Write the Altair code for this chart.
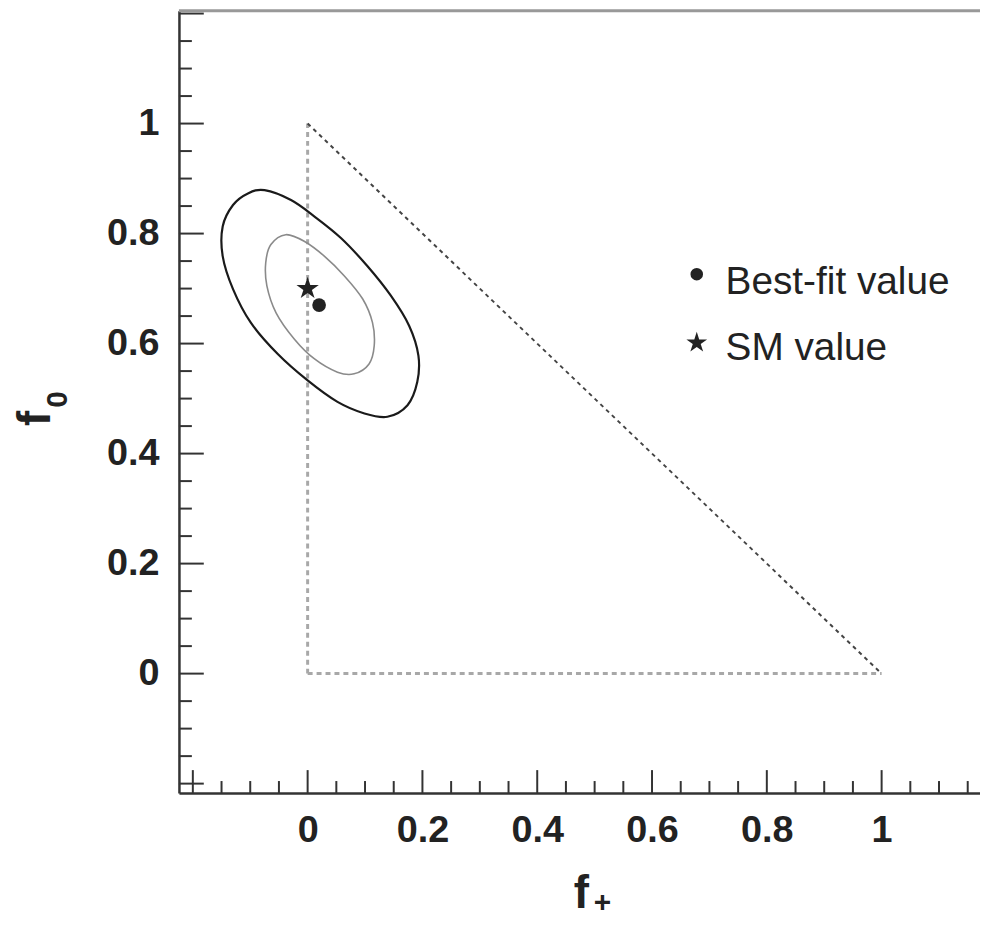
import altair as alt
import pandas as pd

# ---- data ----
outer_x = [-0.075, -0.029, 0.012, 0.058, 0.104, 0.145, 0.177, 0.193, 0.191, 0.174, 0.139,
           0.099, 0.052, 0.000, -0.052, -0.099, -0.130, -0.148, -0.148, -0.130, -0.104]
outer_y = [0.879, 0.861, 0.831, 0.792, 0.741, 0.687, 0.632, 0.578, 0.530, 0.488, 0.467,
           0.473, 0.494, 0.533, 0.581, 0.638, 0.699, 0.759, 0.813, 0.852, 0.873]

inner_x = [-0.038, -0.006, 0.029, 0.064, 0.096, 0.113, 0.116, 0.107, 0.081, 0.052, 0.012,
           -0.023, -0.055, -0.071, -0.073, -0.064]
inner_y = [0.798, 0.786, 0.759, 0.723, 0.681, 0.638, 0.596, 0.563, 0.545, 0.548, 0.572,
           0.608, 0.656, 0.705, 0.747, 0.780]

best_fit = [0.02, 0.67]
sm_value = [0.0, 0.70]

# triangle edges: x, y, x2, y2
gray_edges_x = [0.0, 0.0]
gray_edges_y = [0.0, 0.0]
gray_edges_x2 = [0.0, 1.0]
gray_edges_y2 = [1.0, 0.0]
diag_x, diag_y, diag_x2, diag_y2 = [0.0], [1.0], [1.0], [0.0]

x_major = [-0.2, 0.0, 0.2, 0.4, 0.6, 0.8, 1.0]
x_minor = [-0.15, -0.1, -0.05, 0.05, 0.1, 0.15, 0.25, 0.3, 0.35, 0.45, 0.5, 0.55,
           0.65, 0.7, 0.75, 0.85, 0.9, 0.95, 1.05, 1.1, 1.15]
y_major = [-0.2, 0.0, 0.2, 0.4, 0.6, 0.8, 1.0, 1.2]
y_minor = [-0.15, -0.1, -0.05, 0.05, 0.1, 0.15, 0.25, 0.3, 0.35, 0.45, 0.5, 0.55,
           0.65, 0.7, 0.75, 0.85, 0.9, 0.95, 1.05, 1.1, 1.15]
label_values = [0.0, 0.2, 0.4, 0.6, 0.8, 1.0]

legend_labels = ["Best-fit value", "SM value"]

# ---- layout / style ----
W, H = 806, 787
FONT = "Liberation Sans"
INK = "#222222"
STAR = ("M0,-1L0.2245,-0.309L0.951,-0.309L0.363,0.118L0.588,0.809L0,0.382"
        "L-0.588,0.809L-0.363,0.118L-0.951,-0.309L-0.2245,-0.309Z")

xscale = alt.Scale(domain=[-0.2242, 1.1714], nice=False, zero=False)
yscale = alt.Scale(domain=[-0.217, 1.205], nice=False, zero=False)

common_axis = dict(values=label_values, format=".1~f", title=None, ticks=False, tickSize=0,
                   grid=False, domain=True, domainColor="#333333", domainWidth=2.5,
                   labelFont=FONT, labelFontSize=38, labelFontWeight="bold", labelColor=INK,
                   labelOverlap=False, labelFlush=False)
xaxis = alt.Axis(orient="bottom", labelPadding=19, **common_axis)
yaxis = alt.Axis(orient="left", labelPadding=20, **common_axis)

X = alt.X("x:Q", scale=xscale, axis=xaxis)
Y = alt.Y("y:Q", scale=yscale, axis=yaxis)

one = pd.DataFrame({"a": [0]})

gray_df = pd.DataFrame({"x": gray_edges_x, "y": gray_edges_y, "x2": gray_edges_x2, "y2": gray_edges_y2})
diag_df = pd.DataFrame({"x": diag_x, "y": diag_y, "x2": diag_x2, "y2": diag_y2})

gray_lines = alt.Chart(gray_df).mark_rule(color="#a8a8a8", strokeWidth=3, strokeDash=[5, 4]).encode(
    x=X, y=Y, x2="x2:Q", y2="y2:Q")
diag_line = alt.Chart(diag_df).mark_rule(color="#444444", strokeWidth=2, strokeDash=[4, 4]).encode(
    x=X, y=Y, x2="x2:Q", y2="y2:Q")

outer_df = pd.DataFrame({"x": outer_x, "y": outer_y, "o": list(range(len(outer_x)))})
inner_df = pd.DataFrame({"x": inner_x, "y": inner_y, "o": list(range(len(inner_x)))})

outer = alt.Chart(outer_df).mark_line(color="#1a1a1a", strokeWidth=2.2, interpolate="cardinal-closed").encode(
    x=X, y=Y, order="o:Q")
inner = alt.Chart(inner_df).mark_line(color="#8a8a8a", strokeWidth=1.6, interpolate="cardinal-closed").encode(
    x=X, y=Y, order="o:Q")

bf = alt.Chart(pd.DataFrame({"x": [best_fit[0]], "y": [best_fit[1]]})).mark_point(
    shape="circle", filled=True, color=INK, opacity=1, size=190).encode(x=X, y=Y)
sm = alt.Chart(pd.DataFrame({"x": [sm_value[0]], "y": [sm_value[1]]})).mark_point(
    shape=STAR, filled=True, color=INK, opacity=1, size=560).encode(x=X, y=Y)

# inward tick marks
xmaj = alt.Chart(pd.DataFrame({"x": x_major})).mark_rule(color="#333333", strokeWidth=2).encode(
    x=X, y=alt.value(H), y2=alt.value(H - 23))
xmin = alt.Chart(pd.DataFrame({"x": x_minor})).mark_rule(color="#333333", strokeWidth=2).encode(
    x=X, y=alt.value(H), y2=alt.value(H - 12))
ymaj = alt.Chart(pd.DataFrame({"y": y_major})).mark_rule(color="#333333", strokeWidth=2).encode(
    y=Y, x=alt.value(0), x2=alt.value(25))
ymin = alt.Chart(pd.DataFrame({"y": y_minor})).mark_rule(color="#333333", strokeWidth=2).encode(
    y=Y, x=alt.value(0), x2=alt.value(13))

top_border = alt.Chart(one).mark_rule(color="#999999", strokeWidth=3).encode(
    x=alt.value(0), x2=alt.value(W), y=alt.value(0))

# legend
leg_dot = alt.Chart(one).mark_point(shape="circle", filled=True, color=INK, opacity=1, size=160).encode(
    x=alt.value(521), y=alt.value(265))
leg_star = alt.Chart(one).mark_point(shape=STAR, filled=True, color=INK, opacity=1, size=480).encode(
    x=alt.value(521), y=alt.value(334))
leg_t1 = alt.Chart(one).mark_text(text=legend_labels[0], font=FONT, fontSize=39, color=INK,
                                  align="left", baseline="alphabetic").encode(x=alt.value(550), y=alt.value(285))
leg_t2 = alt.Chart(one).mark_text(text=legend_labels[1], font=FONT, fontSize=39, color=INK,
                                  align="left", baseline="alphabetic").encode(x=alt.value(550), y=alt.value(351))

# axis titles f_+ and f_0
xt_f = alt.Chart(one).mark_text(text="f", font=FONT, fontSize=46, fontWeight="bold", color=INK,
                                align="center", baseline="alphabetic").encode(x=alt.value(405), y=alt.value(903))
xt_s = alt.Chart(one).mark_text(text="+", font=FONT, fontSize=30, fontWeight="bold", color=INK,
                                align="center", baseline="alphabetic").encode(x=alt.value(426), y=alt.value(907))
yt_f = alt.Chart(one).mark_text(text="f", font=FONT, fontSize=46, fontWeight="bold", color=INK, angle=270,
                                align="center", baseline="alphabetic").encode(x=alt.value(-130), y=alt.value(410))
yt_s = alt.Chart(one).mark_text(text="0", font=FONT, fontSize=30, fontWeight="bold", color=INK, angle=270,
                                align="center", baseline="alphabetic").encode(x=alt.value(-113), y=alt.value(391))

chart = alt.layer(
    gray_lines, diag_line, outer, inner, bf, sm,
    xmaj, xmin, ymaj, ymin, top_border,
    leg_dot, leg_star, leg_t1, leg_t2,
    xt_f, xt_s, yt_f, yt_s,
).properties(
    width=W, height=H,
    autosize=alt.AutoSizeParams(type="none"),
    padding={"left": 172, "top": 0, "right": 0, "bottom": 126},
).configure_view(stroke=None)

chart.save("out.html", embed_options={"renderer": "svg", "actions": False})
